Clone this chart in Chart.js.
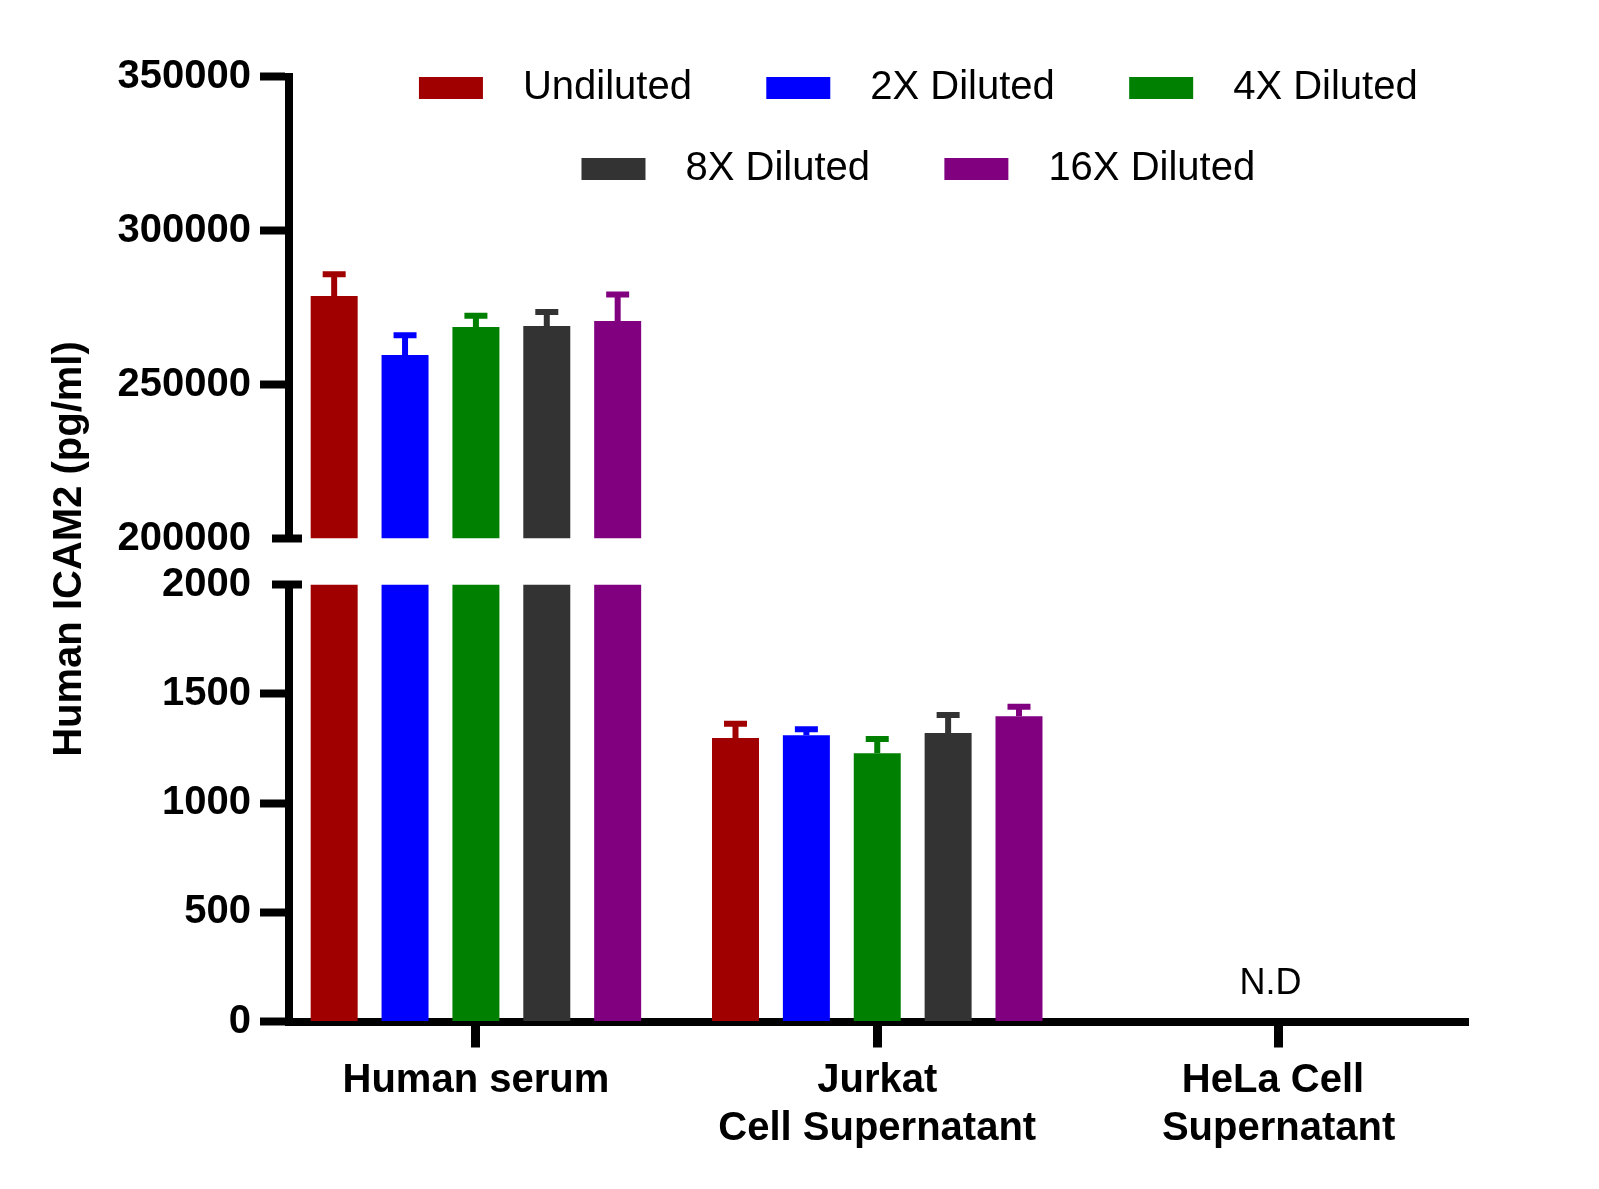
<!DOCTYPE html>
<html>
<head>
<meta charset="utf-8">
<script src="https://cdn.jsdelivr.net/npm/chart.js@4"></script>
<style>
  html, body { margin: 0; padding: 0; background: #fff; }
</style>
</head>
<body>
<canvas id="myChart" width="1599" height="1189"></canvas>
<script>
const categories = [["Human serum"], ["Jurkat", "Cell Supernatant"], ["HeLa Cell ", "Supernatant"]];
const seriesNames = ["Undiluted", "2X Diluted", "4X Diluted", "8X Diluted", "16X Diluted"];
const seriesColors = ["#a00000", "#0000ff", "#008000", "#333333", "#800080"];

// mean concentration (pg/ml), HeLa not detected
const undiluted = [278700, 1297, null];
const diluted2x = [259600, 1310, null];
const diluted4x = [268700, 1228, null];
const diluted8x = [269000, 1320, null];
const diluted16x = [270600, 1397, null];

// upper error bar
const undilutedErr = [7100, 66, null];
const diluted2xErr = [6400, 28, null];
const diluted4xErr = [3600, 65, null];
const diluted8xErr = [4500, 83, null];
const diluted16xErr = [8600, 43, null];

const notes = ["", "", "N.D"];

const upperTicks = [200000, 250000, 300000, 350000];
const lowerTicks = [0, 500, 1000, 1500, 2000];

const values = [undiluted, diluted2x, diluted4x, diluted8x, diluted16x];
const errors = [undilutedErr, diluted2xErr, diluted4xErr, diluted8xErr, diluted16xErr];

// same bars on both halves of the broken axis
const datasets = [];
["yTop", "yBottom"].forEach((axis) => {
    seriesNames.forEach((name, i) => {
        datasets.push({
            label: name,
            data: values[i],
            errors: errors[i],
            yAxisID: axis,
            stack: "s" + i,
            backgroundColor: seriesColors[i],
            borderWidth: 0,
        });
    });
});

const xPadLeft = 0.467;
const xPadRight = 0.472;
const legendCenterX = 935;
const legendTop = 27;

const brokenAxis = {
    id: "brokenAxis",
    afterLayout(chart) {
        const lg = chart.legend;
        const dx = legendCenterX - (lg.left + lg.right) / 2;
        lg.left += dx;
        lg.right += dx;
        lg.top = legendTop;
        lg.bottom = legendTop + 190;
    },
    beforeDatasetDraw(chart, args) {
        const y = args.meta.vScale;
        const area = chart.chartArea;
        const c = chart.ctx;
        c.save();
        c.beginPath();
        c.rect(area.left, y.top, area.right - area.left, y.bottom - y.top);
        c.clip();
    },
    afterDatasetDraw(chart, args) {
        const c = chart.ctx;
        const meta = args.meta;
        const ds = chart.data.datasets[args.index];
        c.strokeStyle = ds.backgroundColor;
        c.lineWidth = 6;
        meta.data.forEach((bar, i) => {
            const v = ds.data[i];
            const e = ds.errors[i];
            if (v == null || e == null) return;
            const yEnd = meta.vScale.getPixelForValue(v + e);
            c.beginPath();
            c.moveTo(bar.x, bar.y);
            c.lineTo(bar.x, yEnd);
            c.moveTo(bar.x - 11.5, yEnd);
            c.lineTo(bar.x + 11.5, yEnd);
            c.stroke();
        });
        c.restore();
    },
    afterDraw(chart) {
        const c = chart.ctx;
        const top = chart.scales.yTop;
        const bottom = chart.scales.yBottom;
        const x = chart.scales.x;
        c.save();
        // break marks
        c.strokeStyle = "#000";
        c.lineWidth = 8;
        [[top, top.min], [bottom, bottom.max]].forEach(([s, v]) => {
            const y = s.getPixelForValue(v);
            c.beginPath();
            c.moveTo(s.right - 16.5, y);
            c.lineTo(s.right + 13.5, y);
            c.stroke();
        });
        // not detected
        const y0 = bottom.getPixelForValue(0);
        c.fillStyle = "#000";
        c.font = '36px "Liberation Sans", Arial, sans-serif';
        c.textAlign = "center";
        c.textBaseline = "alphabetic";
        notes.forEach((t, i) => {
            if (t) c.fillText(t, x.getPixelForValue(i) - 8, y0 - 28);
        });
        c.restore();
    },
};

Chart.defaults.font.family = '"Liberation Sans", Arial, sans-serif';
Chart.defaults.color = "#000";

const tickFont = { size: 40, weight: "bold" };

const ctx = document.getElementById("myChart").getContext("2d");
const myChart = new Chart(ctx, {
    type: "bar",
    data: {
        labels: categories,
        datasets: datasets,
    },
    plugins: [brokenAxis],
    options: {
        responsive: false,
        animation: false,
        devicePixelRatio: 1,
        layout: {
            padding: { top: 75.5, left: 10, right: 131, bottom: 37.5 },
        },
        datasets: {
            bar: { barPercentage: 0.663, categoryPercentage: 0.883 },
        },
        plugins: {
            tooltip: { enabled: false },
            title: {
                display: true,
                text: "Human ICAM2 (pg/ml)",
                position: "left",
                fullSize: false,
                padding: { top: 36, bottom: 10 },
                font: { size: 40, weight: "bold" },
                color: "#000",
            },
            legend: {
                position: "top",
                fullSize: false,
                maxHeight: 1,
                labels: {
                    boxWidth: 64,
                    boxHeight: 22,
                    padding: 41,
                    color: "#000",
                    font: { size: 40 },
                    generateLabels(chart) {
                        return Chart.defaults.plugins.legend.labels.generateLabels(chart)
                            .filter((item) => item.datasetIndex < seriesNames.length)
                            .map((item) => Object.assign(item, { text: "\u2002" + item.text + "   " }));
                    },
                },
            },
        },
        scales: {
            x: {
                type: "category",
                offset: true,
                afterBuildTicks(s) {
                    s._startValue = s.min - xPadLeft;
                    s._valueRange = s.max - s.min + xPadLeft + xPadRight;
                },
                afterFit(s) {
                    s.height = 130;
                },
                border: { width: 8, color: "#000" },
                grid: {
                    drawOnChartArea: false,
                    offset: false,
                    tickLength: 26,
                    tickWidth: 9,
                    tickColor: "#000",
                },
                ticks: { padding: 9, font: tickFont, color: "#000", maxRotation: 0, autoSkip: false },
            },
            yTop: {
                type: "linear",
                position: "left",
                stack: "v",
                stackWeight: 462,
                weight: 3,
                stacked: false,
                min: upperTicks[0],
                max: upperTicks[upperTicks.length - 1],
                afterBuildTicks(s) {
                    s.ticks = upperTicks.map((v) => ({ value: v }));
                },
                afterFit(s) {
                    s.width = 184.5;
                },
                border: { width: 8, color: "#000" },
                grid: {
                    drawOnChartArea: false,
                    tickLength: 28.5,
                    tickWidth: 8,
                    tickColor: (c) => (c.tick && c.tick.value === upperTicks[0] ? "rgba(0,0,0,0)" : "#000"),
                },
                ticks: { padding: 9, font: tickFont, color: "#000", callback: (v) => String(v) },
            },
            yGap: {
                type: "linear",
                position: "left",
                stack: "v",
                stackWeight: 46,
                weight: 2,
                display: false,
            },
            yBottom: {
                type: "linear",
                position: "left",
                stack: "v",
                stackWeight: 437,
                weight: 1,
                stacked: false,
                min: lowerTicks[0],
                max: lowerTicks[lowerTicks.length - 1],
                afterBuildTicks(s) {
                    s.ticks = lowerTicks.map((v) => ({ value: v }));
                },
                afterFit(s) {
                    s.width = 184.5;
                },
                border: { width: 8, color: "#000" },
                grid: {
                    drawOnChartArea: false,
                    tickLength: 28.5,
                    tickWidth: 8,
                    tickColor: (c) => (c.tick && c.tick.value === lowerTicks[lowerTicks.length - 1] ? "rgba(0,0,0,0)" : "#000"),
                },
                ticks: { padding: 9, font: tickFont, color: "#000", callback: (v) => String(v) },
            },
        },
    },
});
</script>
</body>
</html>
